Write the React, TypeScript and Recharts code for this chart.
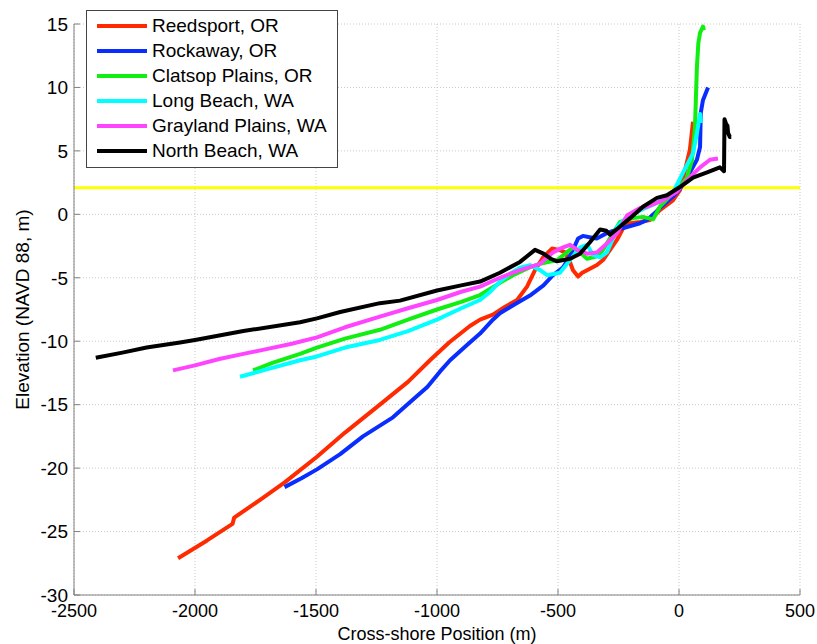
import { LineChart, Line, XAxis, YAxis, CartesianGrid, ReferenceLine, Legend } from "recharts";

// cross-shore profiles, [position m, elevation m NAVD88]
const reedsport = [
  [-2070, -27.1], [-1950, -25.7], [-1845, -24.4], [-1838, -23.9], [-1731, -22.5], [-1628, -21.1],
  [-1496, -19.1], [-1380, -17.2], [-1236, -15.0], [-1120, -13.2], [-1029, -11.5], [-950, -10.1],
  [-864, -8.8], [-822, -8.3], [-769, -7.9], [-720, -7.3], [-669, -6.75], [-628, -5.7], [-595, -4.4],
  [-562, -3.4], [-525, -2.7], [-495, -2.8], [-470, -3.0], [-450, -3.8], [-438, -4.4], [-417, -4.9],
  [-400, -4.6], [-380, -4.4], [-339, -4.0], [-314, -3.6], [-285, -2.8], [-256, -2.0], [-231, -1.1],
  [-202, -0.7], [-161, -0.6], [-120, -0.45], [-79, 0.34], [-25, 1.1], [4, 1.9], [25, 3.5], [45, 5.1], [58, 7.3],
];
const rockaway = [
  [-1630, -21.5], [-1560, -20.8], [-1496, -20.1], [-1400, -18.9], [-1306, -17.5], [-1182, -16.0],
  [-1099, -14.6], [-1040, -13.6], [-988, -12.4], [-946, -11.5], [-876, -10.3], [-822, -9.4],
  [-769, -8.3], [-740, -7.8], [-680, -7.1], [-616, -6.4], [-560, -5.6], [-521, -4.8], [-480, -4.2],
  [-463, -3.7], [-438, -2.8], [-417, -1.9], [-397, -1.7], [-370, -1.8], [-340, -1.9], [-300, -1.5],
  [-273, -1.3], [-215, -1.0], [-161, -0.7], [-132, -0.45], [-100, 0.1], [-79, 0.5], [-25, 1.4],
  [4, 2.0], [45, 3.3], [74, 4.3], [87, 5.3], [90, 8.0], [99, 9.0], [120, 10.0],
];
const clatsop = [
  [-1760, -12.3], [-1680, -11.7], [-1566, -11.0], [-1496, -10.5], [-1380, -9.8], [-1236, -9.1],
  [-1120, -8.3], [-1000, -7.5], [-900, -6.9], [-822, -6.36], [-740, -5.4], [-686, -4.8], [-620, -4.2],
  [-574, -3.9], [-504, -3.6], [-463, -3.0], [-438, -2.6], [-409, -3.0], [-380, -3.5], [-339, -3.3],
  [-314, -2.8], [-273, -1.5], [-244, -0.6], [-190, -0.3], [-149, -0.2], [-107, -0.4], [-79, 0.6],
  [-25, 1.7], [4, 2.2], [33, 2.9], [54, 4.3], [66, 6.9], [74, 11.6], [80, 13.5], [87, 14.3], [99, 14.8], [103, 14.5],
];
const longBeach = [
  [-1814, -12.8], [-1700, -12.2], [-1566, -11.5], [-1496, -11.2], [-1380, -10.5], [-1236, -9.9],
  [-1120, -9.2], [-1000, -8.3], [-900, -7.4], [-822, -6.75], [-780, -6.1], [-740, -5.3], [-700, -4.7],
  [-657, -4.2], [-616, -4.0], [-574, -4.4], [-545, -4.8], [-492, -4.6], [-450, -3.6], [-409, -2.6],
  [-380, -2.4], [-355, -3.2], [-326, -3.4], [-298, -3.0], [-273, -1.9], [-256, -1.0], [-215, -0.2],
  [-161, 0.3], [-91, 0.9], [-25, 1.7], [17, 3.3], [58, 4.8], [74, 6.4], [87, 7.9], [91, 7.2],
];
const grayland = [
  [-2091, -12.3], [-2000, -11.9], [-1900, -11.4], [-1800, -11.0], [-1700, -10.6], [-1600, -10.2],
  [-1496, -9.7], [-1380, -8.9], [-1236, -8.06], [-1120, -7.4], [-1000, -6.75], [-900, -6.1],
  [-822, -5.7], [-740, -5.0], [-657, -4.4], [-574, -3.9], [-521, -3.0], [-479, -2.6], [-450, -2.4],
  [-421, -2.8], [-380, -3.1], [-339, -3.0], [-298, -2.3], [-256, -1.5], [-215, -0.1], [-161, 0.5],
  [-132, 0.6], [-66, 1.1], [-8, 1.8], [33, 2.7], [87, 3.7], [128, 4.3], [161, 4.4],
];
const northBeach = [
  [-2410, -11.3], [-2300, -10.9], [-2200, -10.5], [-2062, -10.1], [-2000, -9.9], [-1800, -9.2],
  [-1566, -8.5], [-1496, -8.2], [-1400, -7.7], [-1236, -7.0], [-1153, -6.8], [-1000, -6.0],
  [-900, -5.6], [-822, -5.3], [-740, -4.6], [-657, -3.75], [-595, -2.8], [-560, -3.1], [-530, -3.5],
  [-504, -3.7], [-450, -3.5], [-409, -3.1], [-368, -2.2], [-326, -1.2], [-300, -1.3], [-285, -1.6],
  [-252, -1.1], [-202, -0.3], [-149, 0.6], [-91, 1.3], [-50, 1.5], [4, 2.15], [58, 2.9], [116, 3.3],
  [169, 3.7], [186, 3.4], [188, 7.5], [195, 7.1], [200, 7.0], [203, 6.4], [210, 6.1], [216, 6.1],
];

const seriesNames = ["Reedsport, OR", "Rockaway, OR", "Clatsop Plains, OR", "Long Beach, WA", "Grayland Plains, WA", "North Beach, WA"];
const seriesColors = ["#ff2a00", "#0a2dff", "#11ee11", "#00ffff", "#ff44ff", "#000000"];
const profiles = [reedsport, rockaway, clatsop, longBeach, grayland, northBeach];

const xTicks = [-2500, -2000, -1500, -1000, -500, 0, 500];
const yTicks = [-30, -25, -20, -15, -10, -5, 0, 5, 10, 15];
const mhwLevel = 2.1;

const toRows = (pts: number[][]) => pts.map(([x, y]) => ({ x, y }));

const renderLegend = () => (
  <div
    style={{
      border: "1px solid #444",
      background: "#fff",
      width: 250,
      height: 154,
      paddingTop: 2,
      boxSizing: "content-box",
      fontSize: 19,
      color: "#000",
    }}
  >
    {seriesNames.map((name, i) => (
      <div key={name} style={{ display: "flex", alignItems: "center", height: 25 }}>
        <span style={{ display: "inline-block", width: 50, height: 4, background: seriesColors[i], marginLeft: 10, marginRight: 5 }} />
        <span style={{ whiteSpace: "nowrap" }}>{name}</span>
      </div>
    ))}
  </div>
);

export default function App() {
  return (
    <div style={{ position: "absolute", left: 0, top: 0, fontFamily: "Arial, 'Liberation Sans', sans-serif", background: "#fff" }}>
      <LineChart width={817} height={644} margin={{ top: 24, right: 17, left: 0, bottom: 0 }}>
        <CartesianGrid stroke="#c8c8c8" strokeDasharray="1 2" />
        <XAxis
          type="number"
          dataKey="x"
          domain={[-2500, 500]}
          ticks={xTicks}
          allowDataOverflow
          height={49}
          stroke="#808080"
          tickSize={-6}
          tickMargin={15}
          tick={{ fill: "#000", fontSize: 18 }}
          label={{ value: "Cross-shore Position (m)", position: "insideBottom", offset: 4, fill: "#000", fontSize: 18 }}
        />
        <YAxis
          type="number"
          dataKey="y"
          domain={[-30, 15]}
          ticks={yTicks}
          allowDataOverflow
          width={74}
          stroke="#808080"
          tickSize={-6}
          tickMargin={12}
          tick={{ fill: "#000", fontSize: 19 }}
          label={{ value: "Elevation (NAVD 88, m)", angle: -90, position: "insideLeft", offset: 22, fill: "#000", fontSize: 19, style: { textAnchor: "middle" } }}
        />
        <ReferenceLine y={mhwLevel} stroke="#ffff00" strokeWidth={3} />
        {profiles.map((pts, i) => (
          <Line
            key={seriesNames[i]}
            data={toRows(pts)}
            dataKey="y"
            name={seriesNames[i]}
            stroke={seriesColors[i]}
            strokeWidth={4}
            strokeLinejoin="round"
            dot={false}
            isAnimationActive={false}
          />
        ))}
        <Legend
          layout="vertical"
          align="center"
          verticalAlign="middle"
          content={renderLegend}
          wrapperStyle={{ left: 86, top: 10, width: 252 }}
        />
      </LineChart>
    </div>
  );
}
